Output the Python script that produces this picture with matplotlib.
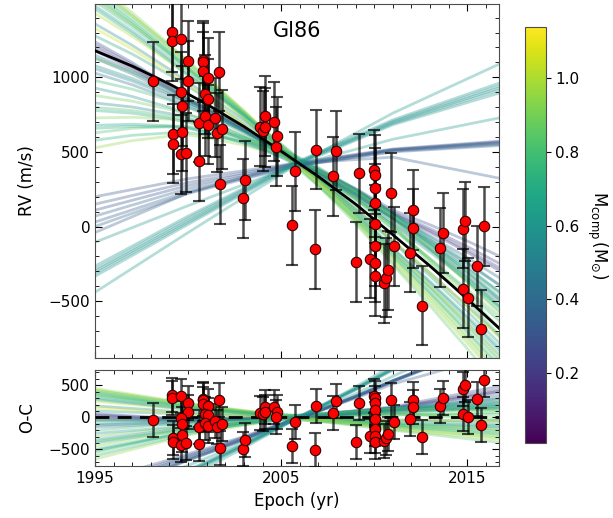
import numpy as np
import matplotlib
matplotlib.use("Agg")
import matplotlib.pyplot as plt
from matplotlib.ticker import MultipleLocator, FixedLocator
from matplotlib import colors

epoch = [1998.09, 1999.11, 1999.11, 1999.61, 2000.00, 2000.00, 1999.61, 1999.68, 1999.18, 1999.18,
         1999.68, 1999.64, 1999.87, 2000.57, 2000.57, 2000.82, 2000.82, 2000.82, 2001.07, 2000.89,
         2001.07, 2000.89, 2001.07, 2001.46, 2001.64, 2001.53, 2001.84, 2001.72, 2002.93, 2003.07,
         2003.84, 2004.12, 2004.04, 2004.12, 2004.61, 2004.79, 2004.70, 2005.75, 2005.57, 2006.87,
         2006.82, 2007.93, 2007.77, 2009.20, 2009.03, 2009.75, 2009.97, 2010.03, 2010.03, 2010.03,
         2010.03, 2010.03, 2010.03, 2010.03, 2010.53, 2010.64, 2010.73, 2010.89, 2011.07, 2011.93,
         2012.07, 2012.07, 2012.55, 2013.55, 2013.71, 2014.79, 2014.86, 2014.79, 2015.05, 2015.54,
         2015.89, 2015.71]
rv = [973, 1303, 1243, 1254, 1109, 975, 902, 808, 618, 556,
      634, 484, 496, 436, 697, 1114, 1100, 1040, 995, 886,
      857, 741, 683, 730, 1038, 630, 652, 284, 190, 310,
      670, 741, 640, 665, 701, 605, 536, 369, 9, 516,
      -152, 509, 337, 357, -237, -214, 379, 348, 261, 156,
      14, -130, -241, -333, -379, -344, -292, 228, -132, -174,
      111, -11, -529, -143, -43, -13, 36, -415, -478, -264,
      2, -687]
rv_err = [265] * len(rv)

# best-fit orbit (black line)
model_yr = [1995, 1997, 1999, 2001, 2003, 2005, 2007, 2009, 2011, 2013, 2015, 2017]
model_rv = [1178, 1075, 955, 820, 670, 505, 335, 150, -55, -265, -485, -715]

# orbit draws, node epochs
node_yr = [1995, 2000, 2005.5, 2011, 2017]

# main bundle of draws, given as offset from the best fit (= O-C curves)
fan_dev = [
    [450, 220, 10, -186, -350], [420, 213, -10, -199, -400], [400, 189, 20, -144, -250],
    [380, 173, 0, -117, -180], [350, 174, -20, -154, -300], [300, 138, 15, -95, -150],
    [250, 123, -5, -105, -200], [330, 160, 30, -120, -220], [180, 78, 10, -43, -50],
    [100, 51, -10, -49, -100], [60, -30, 0, 165, 500], [40, -33, 5, 151, 450],
    [0, -44, -10, 139, 400], [-50, -58, 0, 129, 350], [20, -40, 10, 145, 420],
    [-50, -29, 10, 35, 80], [-100, -57, -15, 66, 150], [-150, -88, 0, 108, 250],
    [-200, -86, 20, 46, 50], [-250, -134, -10, 140, 300], [-300, -138, 10, 95, 150],
    [-400, -189, 25, 144, 250], [-450, -182, 0, 64, 0], [-500, -224, -20, 141, 200],
    [-550, -217, 15, 61, -50], [-600, -259, 30, 137, 150], [-650, -274, 0, 128, 100],
    [-350, -160, -30, 110, 200], [150, 60, -25, -40, -60], [280, 125, 40, -90, -130],
    [430, 200, 25, -170, -320], [-120, -70, 5, 80, 180], [-380, -175, 10, 120, 220],
    [-520, -230, -5, 110, 120], [360, 165, -35, -135, -270], [-30, -40, -5, 110, 300],
]
fan_mass = [0.95, 0.85, 0.80, 0.70, 0.90, 0.62, 1.00, 0.75, 0.55, 0.65,
            0.30, 0.22, 0.18, 0.40, 0.26, 0.85, 0.58, 0.45, 0.78, 0.60,
            0.88, 0.70, 0.92, 0.66, 0.82, 0.74, 0.95, 0.52, 1.05, 0.68,
            0.97, 0.50, 0.80, 0.72, 0.83, 0.42]

# low-mass branch rising from the lower left (absolute RV)
blue_rv = [
    [200, 320, 420, 520, 575], [150, 295, 415, 515, 570], [110, 275, 410, 515, 565],
    [70, 255, 405, 510, 560], [30, 235, 400, 505, 552], [0, 222, 398, 500, 545],
    [-40, 225, 420, 465, 317],
]
blue_mass = [0.30, 0.33, 0.28, 0.36, 0.32, 0.38, 0.34]

# teal branch, steep rise (absolute RV)
teal_rv = [
    [-265, 70, 415, 715, 973], [-285, 55, 410, 705, 955], [-300, 40, 405, 698, 940],
    [-315, 28, 400, 690, 925], [-333, 15, 395, 682, 905], [-440, -40, 390, 760, 1105],
    [-105, 140, 400, 585, 735],
]
teal_mass = [0.58, 0.60, 0.57, 0.59, 0.61, 0.62, 0.60]

cmap = plt.get_cmap("viridis")
norm = colors.Normalize(vmin=0.01, vmax=1.14)

plt.rcParams["font.family"] = "DejaVu Sans"
fig = plt.figure(figsize=(6.13, 5.18), dpi=100)
ax = fig.add_axes([0.155, 0.309, 0.659, 0.683])
ax2 = fig.add_axes([0.155, 0.100, 0.659, 0.186], sharex=ax)
cax = fig.add_axes([0.856, 0.145, 0.034, 0.803])

grid = np.union1d(model_yr, node_yr)
best = np.interp(grid, model_yr, model_rv)

for dev, m in zip(fan_dev, fan_mass):
    d = np.interp(grid, node_yr, dev)
    ax.plot(grid, best + d, color=cmap(norm(m)), alpha=0.33, lw=2.0, zorder=1)
    ax2.plot(grid, d, color=cmap(norm(m)), alpha=0.33, lw=2.0, zorder=1)

for curves, masses in [(blue_rv, blue_mass), (teal_rv, teal_mass)]:
    for c, m in zip(curves, masses):
        r = np.interp(grid, node_yr, c)
        ax.plot(grid, r, color=cmap(norm(m)), alpha=0.33, lw=2.0, zorder=1)
        ax2.plot(grid, r - best, color=cmap(norm(m)), alpha=0.33, lw=2.0, zorder=1)

ax.plot(grid, best, color="k", lw=2.0, zorder=3)
ax2.axhline(0, color="k", ls="--", lw=2.0, dashes=(5, 3), zorder=3)

ep = np.array(epoch)
resid = np.array(rv) - np.interp(ep, model_yr, model_rv)
for a, yv in [(ax, np.array(rv)), (ax2, resid)]:
    a.errorbar(ep, yv, yerr=rv_err, fmt="none", ecolor="k", alpha=0.7,
               elinewidth=1.8, capsize=4, capthick=1.5, zorder=4)
    a.plot(ep, yv, "o", color="red", mec="#300000", mew=0.8, ms=7.5, zorder=5)

ax.text(0.5, 0.925, "Gl86", transform=ax.transAxes, ha="center", va="center", fontsize=15)

ax.set_xlim(1995.0, 2016.7)
ax.set_ylim(-880, 1490)
ax2.set_ylim(-760, 740)
ax.yaxis.set_major_locator(MultipleLocator(500))
ax.yaxis.set_minor_locator(MultipleLocator(100))
ax2.yaxis.set_major_locator(MultipleLocator(500))
ax2.yaxis.set_minor_locator(MultipleLocator(100))
ax2.xaxis.set_major_locator(FixedLocator([1995, 2005, 2015]))
ax2.xaxis.set_minor_locator(MultipleLocator(1))

for a in (ax, ax2):
    a.tick_params(which="both", direction="in", top=True, right=True, labelsize=11)
    a.tick_params(which="major", length=5)
    a.tick_params(which="minor", length=3)
    for s in a.spines.values():
        s.set_color("0.3")
plt.setp(ax.get_xticklabels(), visible=False)

ax.set_ylabel("RV (m/s)", fontsize=12)
ax2.set_ylabel("O-C", fontsize=12)
ax2.set_xlabel("Epoch (yr)", fontsize=12)
ax.yaxis.set_label_coords(-0.145, 0.5)
ax2.yaxis.set_label_coords(-0.145, 0.5)

sm = plt.cm.ScalarMappable(norm=norm, cmap=cmap)
cb = fig.colorbar(sm, cax=cax, ticks=[0.2, 0.4, 0.6, 0.8, 1.0])
cb.ax.tick_params(labelsize=11)
cb.outline.set_edgecolor("0.3")
cb.set_label(r"$\mathrm{M_{comp}\,(M_{\odot})}$", rotation=270, labelpad=21, fontsize=12)

fig.savefig("out.png", dpi=100)
